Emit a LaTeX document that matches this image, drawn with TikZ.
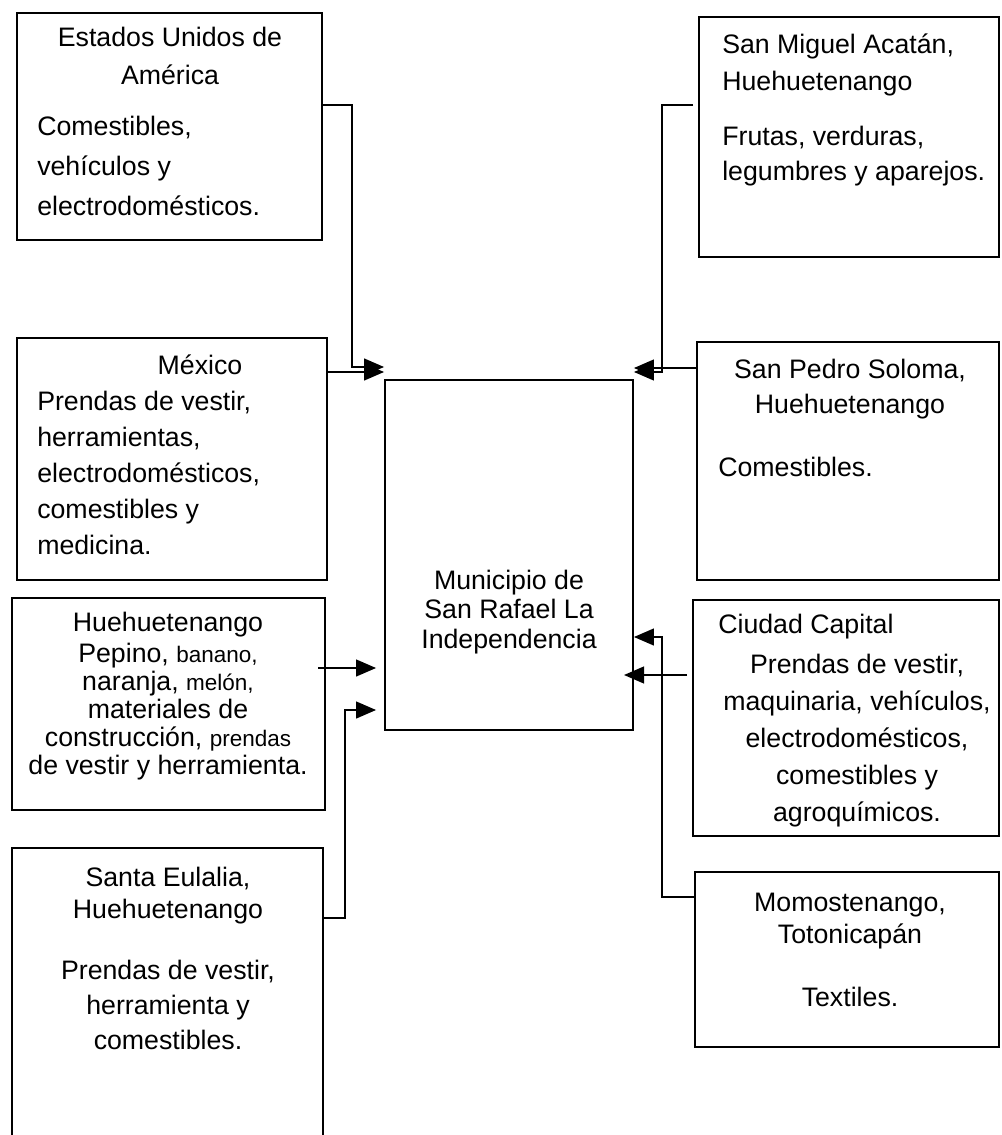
\documentclass[tikz,border=0pt]{standalone}
\usepackage{fontspec}
\setmainfont{Liberation Sans}
\usetikzlibrary{arrows.meta,fit}
\newcommand\chico[1]{{\fontsize{16}{20}\selectfont #1}}

\begin{document}
\begin{tikzpicture}[x=0.025cm,y=-0.025cm,
  box/.style={draw,line width=1.3pt,inner sep=0pt},
  txt/.style={inner sep=0pt,font=\fontsize{19}{#1}\selectfont},
  txt/.default=27pt,
  flecha/.style={line width=1.3pt,-{Triangle[length=0.5cm,width=0.42cm]}}]
	\useasboundingbox (0,0) rectangle (1001,1135);
	% cajas
	\node[box,fit={(17,13) (322,240)}] (usa) {};
	\node[box,fit={(17,338) (327,580)}] (mex) {};
	\node[box,fit={(12,598) (325,810)}] (hue) {};
	\node[box,fit={(12,848) (323,1150)}] (sta) {};
	\node[box,fit={(385,380) (633,730)}] (mun) {};
	\node[box,fit={(699,17) (999,257)}] (smi) {};
	\node[box,fit={(697,342) (999,580)}] (spe) {};
	\node[box,fit={(693,600) (999,836)}] (cca) {};
	\node[box,fit={(695,872) (999,1047)}] (mom) {};
	% textos
	\node[txt,align=center] (usa-t) at (170,56) {Estados Unidos de\\América};
	\node[txt=28.5pt,align=left,anchor=west] (usa-b) at (37,166) {Comestibles,\\vehículos y\\electrodomésticos.};
	\node[txt] (mex-t) at (200,365) {México};
	\node[txt=25.6pt,align=left,anchor=west] (mex-b) at (37,473) {Prendas de vestir,\\herramientas,\\electrodomésticos,\\comestibles y\\medicina.};
	\node[txt] (hue-t) at (168,625) {Huehuetenango};
	\node[txt=19.9pt,align=center] (hue-b) at (168,712) {Pepino, \chico{banano,}\\naranja, \chico{melón,}\\materiales de\\construcción, \chico{prendas}\\de vestir y herramienta.};
	\node[txt=22.8pt,align=center] (sta-t) at (168,896) {Santa Eulalia,\\Huehuetenango};
	\node[txt=24.9pt,align=center] (sta-b) at (168,1005) {Prendas de vestir,\\herramienta y\\comestibles.};
	\node[txt=21pt,align=center] (mun-t) at (509,612) {Municipio de\\San Rafael La\\Independencia};
	\node[txt=26.3pt,align=left,anchor=west] (smi-t) at (722,65) {San Miguel Acatán,\\Huehuetenango};
	\node[txt=24.9pt,align=left,anchor=west] (smi-b) at (722,156) {Frutas, verduras,\\legumbres y aparejos.};
	\node[txt=24.9pt,align=center] (spe-t) at (850,389) {San Pedro Soloma,\\Huehuetenango};
	\node[txt,anchor=west] (spe-b) at (718,467) {Comestibles.};
	\node[txt,anchor=west] (cca-t) at (718,627) {Ciudad Capital};
	\node[txt=26.3pt,align=center] (cca-b) at (857,741) {Prendas de vestir,\\maquinaria, vehículos,\\electrodomésticos,\\comestibles y\\agroquímicos.};
	\node[txt=22.8pt,align=center] (mom-t) at (850,921) {Momostenango,\\Totonicapán};
	\node[txt] (mom-b) at (850,997) {Textiles.};
	% puntos sueltos
	\coordinate (hue-c) at (318,668);
	\coordinate (smi-c) at (693,105);
	\coordinate (cca-c) at (687,675);
	\coordinate (cca-p) at (624,675);
	% flechas
	\draw[flecha] (usa.east |- 0,105) -- (352,105) -- (352,367) -- (mun.west |- 0,367);
	\draw[flecha] (mex.east |- 0,372) -- (mun.west |- 0,372);
	\draw[flecha,shorten >=0.2cm] (hue-c) -- (mun.west |- hue-c);
	\draw[flecha,shorten >=0.2cm] (sta.east |- 0,918) -- (345,918) -- (345,710) -- (mun.west |- 0,710);
	\draw[flecha] (smi-c) -- (662,105) -- (662,372) -- (mun.east |- 0,372);
	\draw[flecha] (spe.west |- 0,368) -- (mun.east |- 0,368);
	\draw[flecha] (cca-c) -- (cca-p);
	\draw[flecha] (mom.west |- 0,897) -- (662,897) -- (662,637) -- (mun.east |- 0,637);
\end{tikzpicture}
\end{document}
